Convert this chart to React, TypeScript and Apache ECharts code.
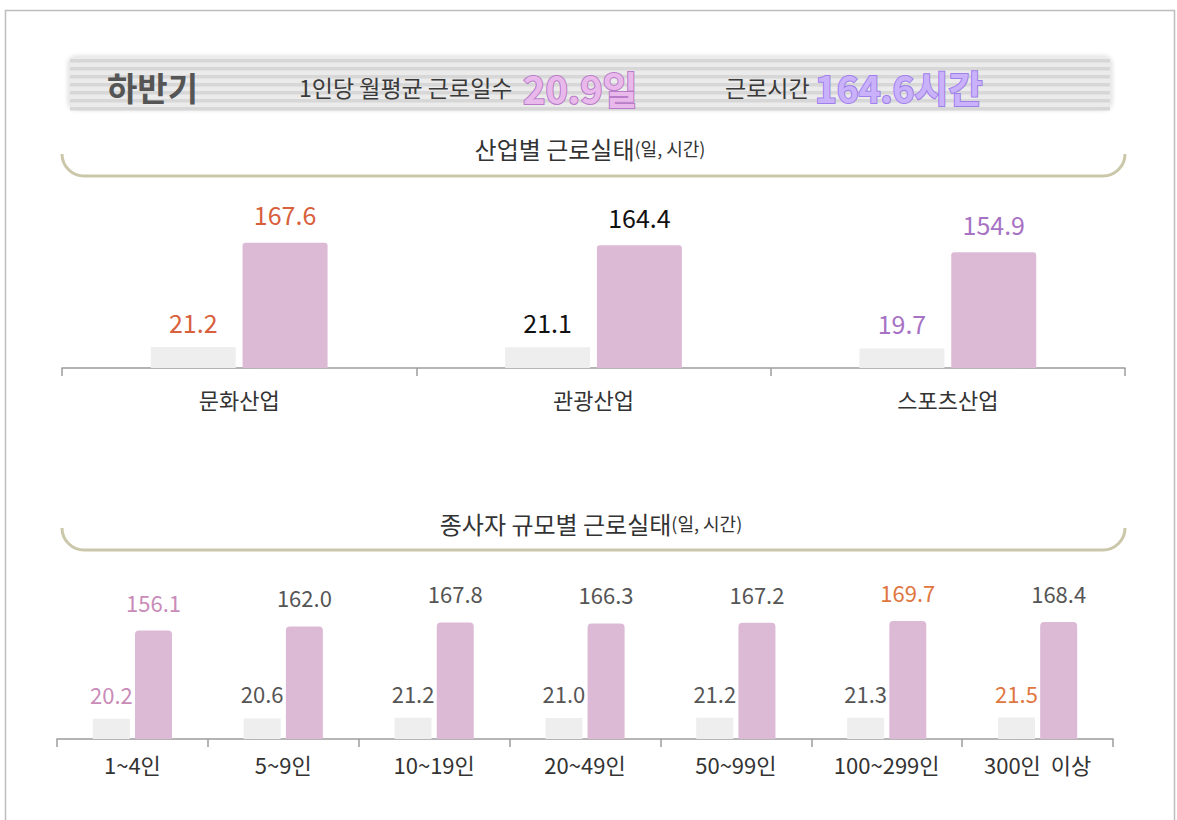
import React, { useEffect, useRef } from "react";
import * as echarts from "echarts";

const FONT = "Noto Sans CJK KR";

const industryCategories = ["문화산업", "관광산업", "스포츠산업"];
const industryDays = [21.2, 21.1, 19.7];
const industryHours = [167.6, 164.4, 154.9];
const industryLabelColors = ["#d8603c", "#111111", "#a772c4"];

const sizeCategories = ["1~4인", "5~9인", "10~19인", "20~49인", "50~99인", "100~299인", "300인  이상"];
const sizeDays = [20.2, 20.6, 21.2, 21.0, 21.2, 21.3, 21.5];
const sizeHours = [156.1, 162.0, 167.8, 166.3, 167.2, 169.7, 168.4];
const sizeDayLabelColors = ["#c98bb8", "#555555", "#555555", "#555555", "#555555", "#555555", "#e0763f"];
const sizeHourLabelColors = ["#c98bb8", "#555555", "#555555", "#555555", "#555555", "#e0763f", "#555555"];

const headerTitle = "하반기";
const headerDaysLabel = "1인당 월평균 근로일수";
const headerDaysValue = "20.9일";
const headerHoursLabel = "근로시간";
const headerHoursValue = "164.6시간";
const sectionTitle1 = "산업별 근로실태";
const sectionTitle2 = "종사자 규모별 근로실태";
const sectionUnit = "(일, 시간)";

const GRAY_BAR = "#eeeeee";
const PINK_BAR = "#dcbad6";
const AXIS_COLOR = "#9c9c9c";
const BRACKET_COLOR = "#cbc7ab";

function bracket(yTop: number, yLine: number, x0: number, x1: number) {
  const r = yLine - yTop;
  return [
    {
      type: "arc",
      shape: { cx: x0 + r, cy: yTop, r, startAngle: Math.PI / 2, endAngle: Math.PI, clockwise: true },
      style: { stroke: BRACKET_COLOR, lineWidth: 3, fill: "none" },
    },
    {
      type: "line",
      shape: { x1: x0 + r, y1: yLine, x2: x1 - r, y2: yLine },
      style: { stroke: BRACKET_COLOR, lineWidth: 3 },
    },
    {
      type: "arc",
      shape: { cx: x1 - r, cy: yTop, r, startAngle: 0, endAngle: Math.PI / 2, clockwise: true },
      style: { stroke: BRACKET_COLOR, lineWidth: 3, fill: "none" },
    },
  ];
}

function fmt(p: any) {
  return Number(p.value).toFixed(1);
}

export default function App() {
  const ref = useRef<HTMLDivElement>(null);

  useEffect(() => {
    if (!ref.current) return;
    const chart = echarts.init(ref.current, undefined, { renderer: "svg" });

    const stripes: any[] = [];
    for (let y = 59; y < 108; y += 8) {
      stripes.push({
        type: "rect",
        shape: { x: 70, y, width: 1040, height: 3.5 },
        style: { fill: "#d7d7d7" },
      });
    }

    const titleRich = {
      a: { fontSize: 24, fontFamily: FONT, fill: "#333333" },
      b: { fontSize: 18, fontFamily: FONT, fill: "#333333" },
    };

    const graphic: any[] = [
      {
        type: "rect",
        shape: { x: 5.5, y: 10.5, width: 1169, height: 840 },
        style: { fill: "none", stroke: "#bdbdbd", lineWidth: 1.5 },
      },
      {
        type: "rect",
        shape: { x: 68, y: 56, width: 1044, height: 54, r: 8 },
        style: { fill: "#ebebeb", shadowBlur: 4, shadowColor: "rgba(0,0,0,0.15)" },
      },
      ...stripes,
      {
        type: "text",
        x: 107,
        y: 87,
        style: { text: headerTitle, fontSize: 33, fontWeight: "bold", fontFamily: FONT, fill: "#555555", align: "left", verticalAlign: "middle" },
      },
      {
        type: "text",
        x: 299,
        y: 87,
        style: { text: headerDaysLabel, fontSize: 23, fontFamily: FONT, fill: "#3a3a3a", align: "left", verticalAlign: "middle" },
      },
      {
        type: "text",
        x: 523,
        y: 87,
        style: { text: headerDaysValue, fontSize: 38, fontWeight: "bold", fontFamily: FONT, fill: "#e8b9ea", stroke: "#b87cc8", lineWidth: 2, align: "left", verticalAlign: "middle" },
      },
      {
        type: "text",
        x: 725,
        y: 87,
        style: { text: headerHoursLabel, fontSize: 23, fontFamily: FONT, fill: "#3a3a3a", align: "left", verticalAlign: "middle" },
      },
      {
        type: "text",
        x: 815,
        y: 87,
        style: { text: headerHoursValue, fontSize: 37, fontWeight: "bold", fontFamily: FONT, fill: "#c9b2fa", stroke: "#9f80ea", lineWidth: 2, align: "left", verticalAlign: "middle" },
      },
      {
        type: "text",
        x: 590,
        y: 148,
        style: {
          text: `{a|${sectionTitle1}}{b|${sectionUnit}}`,
          align: "center",
          verticalAlign: "middle",
          rich: titleRich,
        },
      },
      ...bracket(154, 176, 62, 1125),
      {
        type: "text",
        x: 591,
        y: 523,
        style: {
          text: `{a|${sectionTitle2}}{b|${sectionUnit}}`,
          align: "center",
          verticalAlign: "middle",
          rich: titleRich,
        },
      },
      ...bracket(528, 550, 62, 1125),
    ];

    const xAxisCommon = {
      type: "category",
      axisLine: { lineStyle: { color: AXIS_COLOR, width: 1.5 } },
      axisTick: { show: true, length: 8, lineStyle: { color: AXIS_COLOR, width: 1.5 } },
      axisLabel: { color: "#333333", fontSize: 22, fontFamily: FONT },
    };

    const option: any = {
      animation: false,
      backgroundColor: "#ffffff",
      graphic,
      grid: [
        { left: 62, right: 52, top: 200, bottom: 452 },
        { left: 57, right: 64, top: 559, bottom: 81 },
      ],
      xAxis: [
        { ...xAxisCommon, gridIndex: 0, data: industryCategories, axisLabel: { ...xAxisCommon.axisLabel, margin: 20 } },
        { ...xAxisCommon, gridIndex: 1, data: sizeCategories, axisLabel: { ...xAxisCommon.axisLabel, margin: 14 } },
      ],
      yAxis: [
        { type: "value", gridIndex: 0, min: 0, max: 170, show: false },
        { type: "value", gridIndex: 0, min: 0, max: 225, show: false },
        { type: "value", gridIndex: 1, min: 0, max: 180, show: false },
        { type: "value", gridIndex: 1, min: 0, max: 259, show: false },
      ],
      series: [
        {
          type: "bar",
          xAxisIndex: 0,
          yAxisIndex: 0,
          barWidth: 85,
          barGap: "8%",
          itemStyle: { color: GRAY_BAR },
          label: { show: true, position: "top", distance: 13, fontSize: 25, fontFamily: FONT, formatter: fmt },
          data: industryDays.map((v, i) => ({ value: v, label: { color: industryLabelColors[i] } })),
        },
        {
          type: "bar",
          xAxisIndex: 0,
          yAxisIndex: 1,
          barWidth: 85,
          barGap: "8%",
          itemStyle: { color: PINK_BAR, borderRadius: [3, 3, 0, 0] },
          label: { show: true, position: "top", distance: 16, fontSize: 25, fontFamily: FONT, formatter: fmt },
          data: industryHours.map((v, i) => ({ value: v, label: { color: industryLabelColors[i] } })),
        },
        {
          type: "bar",
          xAxisIndex: 1,
          yAxisIndex: 2,
          barWidth: 37,
          barGap: "14%",
          itemStyle: { color: GRAY_BAR },
          label: { show: true, position: "top", distance: 14, fontSize: 22, fontFamily: FONT, formatter: fmt },
          data: sizeDays.map((v, i) => ({ value: v, label: { color: sizeDayLabelColors[i] } })),
        },
        {
          type: "bar",
          xAxisIndex: 1,
          yAxisIndex: 3,
          barWidth: 37,
          barGap: "14%",
          itemStyle: { color: PINK_BAR, borderRadius: [4, 4, 0, 0] },
          label: { show: true, position: "top", distance: 18, fontSize: 22, fontFamily: FONT, formatter: fmt },
          data: sizeHours.map((v, i) => ({ value: v, label: { color: sizeHourLabelColors[i] } })),
        },
      ],
    };

    chart.setOption(option);
    return () => chart.dispose();
  }, []);

  return <div ref={ref} style={{ position: "absolute", left: 0, top: 0, width: 1177, height: 820 }} />;
}
